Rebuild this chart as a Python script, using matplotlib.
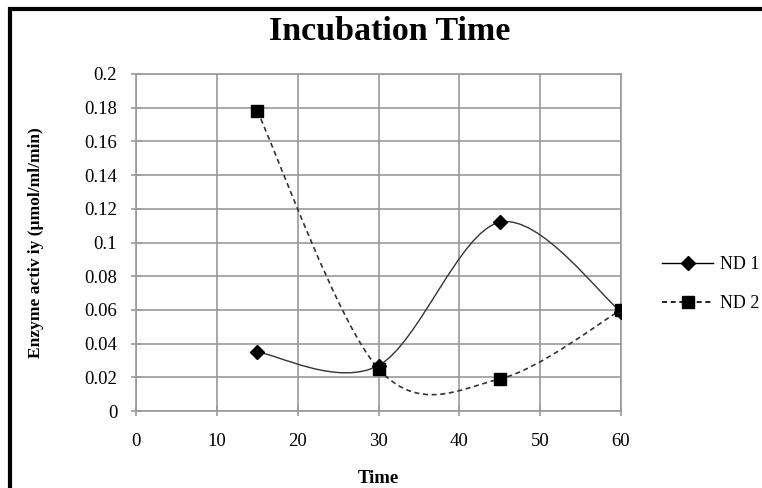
import matplotlib

matplotlib.use("Agg")
import matplotlib.pyplot as plt  # noqa: E402
import numpy as np  # noqa: E402
from matplotlib.path import Path  # noqa: E402
from matplotlib.patches import PathPatch, Rectangle  # noqa: E402
from matplotlib.lines import Line2D  # noqa: E402

# values
time_min = [15, 30, 45, 60]
nd1 = [0.035, 0.027, 0.112, 0.059]
nd2 = [0.178, 0.025, 0.019, 0.060]
x_ticks = [0, 10, 20, 30, 40, 50, 60]
y_ticks = [0, 0.02, 0.04, 0.06, 0.08, 0.1, 0.12, 0.14, 0.16, 0.18, 0.2]
y_tick_labels = ["0", "0.02", "0.04", "0.06", "0.08", "0.1", "0.12",
                 "0.14", "0.16", "0.18", "0.2"]

plt.rcParams["font.family"] = ["Liberation Serif", "DejaVu Serif"]


def smooth_path(xs, ys):
    """Excel-style smoothed line: cubic Bezier through each point."""
    pts = np.column_stack([xs, ys]).astype(float)
    n = len(pts)
    verts = [pts[0]]
    codes = [Path.MOVETO]
    for i in range(n - 1):
        p_prev = pts[max(i - 1, 0)]
        p0 = pts[i]
        p1 = pts[i + 1]
        p_next = pts[min(i + 2, n - 1)]
        c1 = p0 + (p1 - p_prev) / 6.0
        c2 = p1 - (p_next - p0) / 6.0
        verts += [c1, c2, p1]
        codes += [Path.CURVE4] * 3
    return Path(verts, codes)


fig = plt.figure(figsize=(7.62, 4.88), dpi=100)
ax = fig.add_axes([136 / 762, 1 - 411 / 488, 485 / 762, 337 / 488])

grid_c = "#9a9a9a"
ax.set_xlim(0, 60)
ax.set_ylim(0, 0.2)
ax.set_xticks(x_ticks)
ax.set_yticks(y_ticks)
ax.set_yticklabels(y_tick_labels)
ax.grid(True, color=grid_c, linewidth=1.2)
ax.set_axisbelow(True)
for s in ax.spines.values():
    s.set_color(grid_c)
    s.set_linewidth(1.2)
ax.tick_params(direction="inout", length=7, width=1.2, color=grid_c,
               labelsize=13.5)
ax.tick_params(axis="x", pad=12)
ax.tick_params(axis="y", pad=10)

ax.add_patch(PathPatch(smooth_path(time_min, nd1), fill=False,
                       edgecolor="#333333", linewidth=1.0))
ax.add_patch(PathPatch(smooth_path(time_min, nd2), fill=False,
                       edgecolor="#333333", linewidth=1.2,
                       linestyle=(0, (3, 2.2))))
ax.plot(time_min, nd1, linestyle="none", marker="D", markersize=7,
        color="black", zorder=5)
ax.plot(time_min, nd2, linestyle="none", marker="s", markersize=8,
        color="black", zorder=6)

ax.set_xlabel("Time", fontsize=13.5, fontweight="bold", labelpad=15)
ax.set_ylabel("Enzyme activ iy (µmol/ml/min)", fontsize=12.5,
              fontweight="bold", labelpad=29)
fig.text(390 / 762, 1 - 31 / 488, "Incubation Time", fontsize=24.5,
         fontweight="bold", ha="center", va="center")

handles = [
    Line2D([], [], color="black", linewidth=1.0, marker="D", markersize=7),
    Line2D([], [], color="black", linewidth=1.2, linestyle=(0, (3, 2.2)),
           marker="s", markersize=8),
]
fig.legend(handles, ["ND 1", "ND 2"], loc="center left",
           bbox_to_anchor=(655 / 762, 1 - 284 / 488), frameon=False,
           fontsize=13, handlelength=2.8, handletextpad=0.4,
           labelspacing=1.2, borderaxespad=0, borderpad=0.4)

# outer chart frame (only left and top edges fall inside the picture)
fig.patches.append(Rectangle((10 / 762, -0.1), 1.2, (1 - 9 / 488) + 0.1,
                             transform=fig.transFigure, fill=False,
                             edgecolor="black", linewidth=3.0))

fig.savefig("out.png", dpi=100)
